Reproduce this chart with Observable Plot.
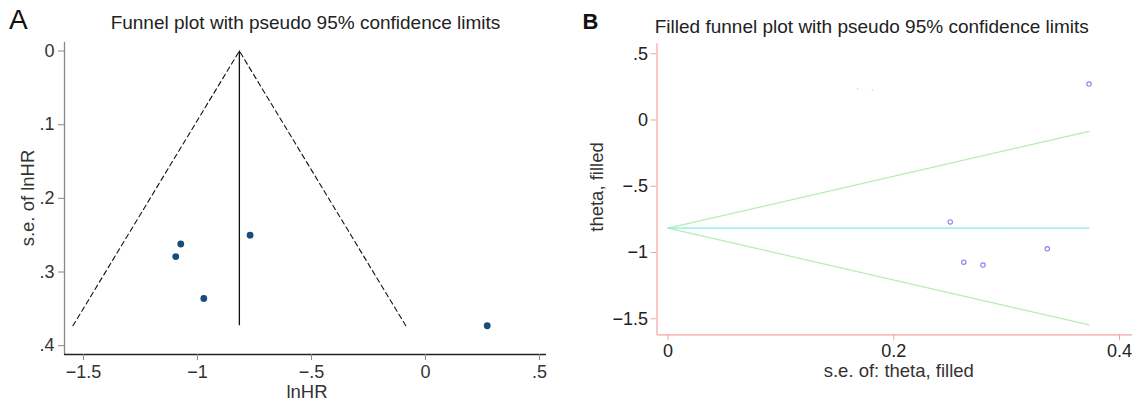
<!DOCTYPE html>
<html>
<head>
<meta charset="utf-8">
<script src="https://cdn.jsdelivr.net/npm/d3@7"></script>
<script src="https://cdn.jsdelivr.net/npm/@observablehq/plot@0.6"></script>
<style>
  html, body { margin: 0; padding: 0; background: #fff; }
  #wrap { position: relative; width: 1138px; height: 403px; overflow: hidden; font-family: "Liberation Sans", Arial, sans-serif; color: #333; }
  .panel { position: absolute; top: 0; }
  .txt { position: absolute; white-space: nowrap; line-height: 1; }
</style>
</head>
<body>
<div id="wrap"></div>
<script>
// ---- Data ----
const studyLnHR = [-0.769, -1.073, -1.095, -0.972, 0.271];
const studySE   = [0.250, 0.262, 0.279, 0.336, 0.373];
const pooledTheta = -0.816;
const seMax = 0.373;
const funnelX = [-1.546, -0.816, -0.086];
const funnelY = [0.373, 0, 0.373];
const upperLimitTheta = [-0.816, -0.086];
const lowerLimitTheta = [-0.816, -1.546];
const limitSE = [0, 0.373];
const speckSE = [0.168, 0.181];
const speckTheta = [0.236, 0.228];

const ticksA_x = [-1.5, -1, -0.5, 0, 0.5];
const ticksA_y = [0, 0.1, 0.2, 0.3, 0.4];
const ticksB_x = [0, 0.2, 0.4];
const ticksB_y = [0.5, 0, -0.5, -1, -1.5];

const fmtStata = d => {
  if (d === 0) return "0";
  let s = String(Math.abs(d)).replace(/^0\./, ".");
  return (d < 0 ? "\u2212" : "") + s;
};

const studies = studyLnHR.map((v, i) => ({lnhr: v, se: studySE[i]}));
const funnel = funnelX.map((v, i) => ({x: v, y: funnelY[i]}));
const upper = limitSE.map((s, i) => ({se: s, th: upperLimitTheta[i]}));
const lower = limitSE.map((s, i) => ({se: s, th: lowerLimitTheta[i]}));
const pooled = limitSE.map(s => ({se: s, th: pooledTheta}));
const specks = speckSE.map((s, i) => ({se: s, th: speckTheta[i]}));

const wrap = document.getElementById("wrap");
const styleBase = {fontFamily: "Liberation Sans, Arial, sans-serif", fontSize: "18px", color: "#333", background: "transparent", overflow: "visible"};

// ---- Panel A ----
const xA = [-1.583, 0.531], yA = [-0.012, 0.412];
const plotA = Plot.plot({
  width: 570, height: 403,
  marginLeft: 64, marginRight: 24, marginTop: 41.7, marginBottom: 49,
  style: styleBase,
  x: {domain: xA},
  y: {domain: yA, reverse: true},
  marks: [
    Plot.ruleX([xA[0]], {stroke: "#888", strokeWidth: 1.3}),
    Plot.ruleY([yA[1]], {stroke: "#222", strokeWidth: 1.3}),
    Plot.axisX({ticks: ticksA_x, tickFormat: fmtStata, tickSize: 6, tickPadding: 5, stroke: "#888", fill: "#333", label: null}),
    Plot.axisY({ticks: ticksA_y, tickFormat: fmtStata, tickSize: 6, tickPadding: 4, stroke: "#888", fill: "#333", label: null}),
    Plot.line(funnel, {x: "x", y: "y", stroke: "#111", strokeWidth: 1.1, strokeDasharray: "5,3.5"}),
    Plot.ruleX([pooledTheta], {y1: 0, y2: seMax, stroke: "#111", strokeWidth: 1.3}),
    Plot.dot(studies, {x: "lnhr", y: "se", r: 3.4, fill: "#1b4b7a", stroke: "none"})
  ]
});
plotA.classList.add("panel");
plotA.style.left = "0px";
wrap.appendChild(plotA);

// ---- Panel B ----
const xB = [-0.0098, 0.4115], yB = [-1.621, 0.575];
const pink = "#f4a3a3";
const plotB = Plot.plot({
  width: 568, height: 403,
  marginLeft: 86.5, marginRight: 6, marginTop: 43.3, marginBottom: 68.7,
  style: styleBase,
  x: {domain: xB},
  y: {domain: yB},
  marks: [
    Plot.ruleX([xB[0]], {stroke: pink, strokeWidth: 1.2}),
    Plot.ruleY([yB[0]], {stroke: pink, strokeWidth: 1.2}),
    Plot.axisX({ticks: ticksB_x, tickFormat: d => d === 0 ? "0" : String(d), tickSize: 6, tickPadding: 3, stroke: pink, fill: "#222", label: null}),
    Plot.axisY({ticks: ticksB_y, tickFormat: fmtStata, tickSize: 6, tickPadding: 3, stroke: pink, fill: "#222", label: null}),
    Plot.line(upper, {x: "se", y: "th", stroke: "#b4eeb0", strokeWidth: 1.2}),
    Plot.line(lower, {x: "se", y: "th", stroke: "#b4eeb0", strokeWidth: 1.2}),
    Plot.line(pooled, {x: "se", y: "th", stroke: "#86ecec", strokeWidth: 1.3}),
    Plot.dot(specks, {x: "se", y: "th", r: 0.7, fill: "#c8c8c8", stroke: "none"}),
    Plot.dot(studies.map(d => ({se: d.se, th: d.lnhr})), {x: "se", y: "th", r: 2.2, fill: "none", stroke: "#8383ee", strokeWidth: 1.1})
  ]
});
plotB.classList.add("panel");
plotB.style.left = "570px";
wrap.appendChild(plotB);

// ---- Text (titles, labels) ----
function addText(str, {x, baseline, size, anchor = "middle", weight = "normal", color = "#333", rotate = false}) {
  const d = document.createElement("div");
  d.className = "txt";
  d.textContent = str;
  d.style.fontSize = size + "px";
  d.style.fontWeight = weight;
  d.style.color = color;
  if (!rotate) {
    d.style.top = (baseline - 0.8465 * size) + "px";
    d.style.left = x + "px";
    if (anchor === "middle") d.style.transform = "translateX(-50%)";
  } else {
    // x = baseline x position, baseline param = vertical center
    const cx = x - 0.3465 * size;
    d.style.left = cx + "px";
    d.style.top = baseline + "px";
    d.style.transform = "translate(-50%, -50%) rotate(-90deg)";
  }
  wrap.appendChild(d);
}
addText("A", {x: 9, baseline: 30, size: 28, anchor: "start", color: "#111"});
addText("Funnel plot with pseudo 95% confidence limits", {x: 305.5, baseline: 29.3, size: 19, color: "#222"});
addText("lnHR", {x: 307, baseline: 398.3, size: 18.5});
addText("s.e. of lnHR", {x: 34.6, baseline: 198.3, size: 18.5, rotate: true});

addText("B", {x: 582.5, baseline: 29.3, size: 22, anchor: "start", weight: "bold", color: "#111"});
addText("Filled funnel plot with pseudo 95% confidence limits", {x: 871.8, baseline: 33.3, size: 19, color: "#222"});
addText("s.e. of: theta, filled", {x: 898.8, baseline: 377.3, size: 18.5});
addText("theta, filled", {x: 603.5, baseline: 186.7, size: 18.5, rotate: true});
</script>
</body>
</html>
